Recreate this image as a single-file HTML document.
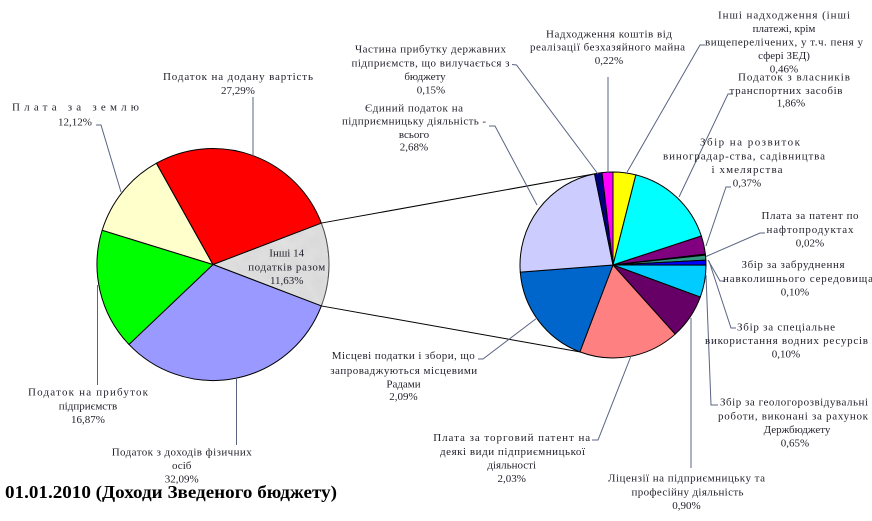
<!DOCTYPE html>
<html><head><meta charset="utf-8"><style>
html,body{margin:0;padding:0;background:#fff;}
svg{display:block;}
text{font-family:"Liberation Serif","DejaVu Serif",serif;font-size:11px;fill:#1f1f2a;}
.t{font-size:18px;font-weight:bold;fill:#000;}
</style></head><body>
<svg width="872" height="521" viewBox="0 0 872 521" xmlns="http://www.w3.org/2000/svg">
<defs>
<filter id="marble" x="0" y="0" width="100%" height="100%">
<feTurbulence type="fractalNoise" baseFrequency="0.08" numOctaves="3" seed="3" result="n"/>
<feColorMatrix in="n" type="matrix" values="0 0 0 0 0.5  0 0 0 0 0.5  0 0 0 0 0.5  0 0 0 0.35 0" result="c"/>
<feComposite in="c" in2="SourceGraphic" operator="in" result="m"/>
<feMerge><feMergeNode in="SourceGraphic"/><feMergeNode in="m"/></feMerge>
</filter>
</defs>
<rect width="872" height="521" fill="#fff"/>

<!-- connectors -->
<g stroke="#000" stroke-width="1" fill="none">
<line x1="321.35" y1="223.06" x2="594.53" y2="173.85"/>
<line x1="321.35" y1="305.94" x2="579.84" y2="351.89"/>
</g>

<!-- left pie -->
<g stroke="#000" stroke-width="1" stroke-linejoin="round">
<path d="M213,264.5 L321.35,223.06 A116,116 0 0 1 321.35,305.94 Z" fill="#e3e3e3" filter="url(#marble)"/>
<path d="M213,264.5 L321.35,305.94 A116,116 0 0 1 128.95,344.44 Z" fill="#9999ff"/>
<path d="M213,264.5 L128.95,344.44 A116,116 0 0 1 102.17,230.24 Z" fill="#00ff00"/>
<path d="M213,264.5 L102.17,230.24 A116,116 0 0 1 156.42,163.23 Z" fill="#ffffcc"/>
<path d="M213,264.5 L156.42,163.23 A116,116 0 0 1 321.35,223.06 Z" fill="#ff0000"/>
</g>

<!-- right pie -->
<g stroke="#000" stroke-width="1" stroke-linejoin="round">
<path d="M613,265 L613,172 A93,93 0 0 1 635.87,174.86 Z" fill="#ffff00"/>
<path d="M613,265 L635.87,174.86 A93,93 0 0 1 701.35,235.97 Z" fill="#00ffff"/>
<path d="M613,265 L701.35,235.97 A93,93 0 0 1 705.36,254.10 Z" fill="#800080"/>
<path d="M613,265 L705.36,254.10 A93,93 0 0 1 705.47,255.09 Z" fill="#000080"/>
<path d="M613,265 L705.47,255.09 A93,93 0 0 1 705.87,260.10 Z" fill="#339980"/>
<path d="M613,265 L705.87,260.10 A93,93 0 0 1 706.00,265.12 Z" fill="#0000ff"/>
<path d="M613,265 L706.00,265.12 A93,93 0 0 1 700.28,297.11 Z" fill="#00ccff"/>
<path d="M613,265 L700.28,297.11 A93,93 0 0 1 675.14,334.19 Z" fill="#660066"/>
<path d="M613,265 L675.14,334.19 A93,93 0 0 1 579.84,351.89 Z" fill="#ff8080"/>
<path d="M613,265 L579.84,351.89 A93,93 0 0 1 520.28,272.16 Z" fill="#0066cc"/>
<path d="M613,265 L520.28,272.16 A93,93 0 0 1 594.53,173.85 Z" fill="#ccccff"/>
<path d="M613,265 L594.53,173.85 A93,93 0 0 1 601.97,172.66 Z" fill="#000080"/>
<path d="M613,265 L601.97,172.66 A93,93 0 0 1 613,172 Z" fill="#ff00ff"/>
</g>

<!-- leader lines -->
<g stroke="#5a6482" stroke-width="1" fill="none">
<polyline points="253,97 253,156"/>
<polyline points="96,125 101,125 121,192"/>
<polyline points="97.5,285 97.5,385"/>
<polyline points="236.5,378 236.5,445"/>
<polyline points="512,64.5 516.5,65 598,174"/>
<polyline points="489,126 495,126 537,205"/>
<polyline points="608,77 608,173"/>
<polyline points="705,45 700,45 626,174"/>
<polyline points="733,94 728,94 679,197"/>
<polyline points="731,187 726,187 706,246"/>
<polyline points="765,233 760,233 706,256.5"/>
<polyline points="708,260 720,281 725,281"/>
<polyline points="709,261 731,328 736,328"/>
<polyline points="706,275 711,405 718,405"/>
<polyline points="691,318 691,468"/>
<polyline points="592,440 598,440 631,356"/>
<polyline points="478,359 483,359 537,318"/>
</g>

<!-- left labels -->
<text x="238" y="80" text-anchor="middle" textLength="150" lengthAdjust="spacing">Податок на додану вартість</text>
<text x="238" y="94" text-anchor="middle">27,29%</text>

<text x="75.5" y="110.5" text-anchor="middle" textLength="127" lengthAdjust="spacing">Плата за землю</text>
<text x="75" y="125.5" text-anchor="middle">12,12%</text>

<text x="88" y="395.5" text-anchor="middle" textLength="120" lengthAdjust="spacing">Податок на прибуток</text>
<text x="88" y="409.5" text-anchor="middle">підприємств</text>
<text x="88" y="423" text-anchor="middle">16,87%</text>

<text x="181.7" y="455.7" text-anchor="middle" textLength="140" lengthAdjust="spacing">Податок з доходів фізичних</text>
<text x="181.7" y="469" text-anchor="middle">осіб</text>
<text x="181.7" y="482.3" text-anchor="middle">32,09%</text>

<text x="286.7" y="256.5" text-anchor="middle">Інші 14</text>
<text x="286.7" y="270.5" text-anchor="middle" textLength="77" lengthAdjust="spacing">податків разом</text>
<text x="286.7" y="284" text-anchor="middle">11,63%</text>

<!-- right labels -->
<text x="430.5" y="52.3" text-anchor="middle" textLength="151" lengthAdjust="spacing">Частина прибутку державних</text>
<text x="430.5" y="66.7" text-anchor="middle" textLength="158" lengthAdjust="spacing">підприємств, що вилучається з</text>
<text x="425" y="80" text-anchor="middle">бюджету</text>
<text x="431" y="93.3" text-anchor="middle">0,15%</text>

<text x="414" y="111.3" text-anchor="middle" textLength="98" lengthAdjust="spacing">Єдиний податок на</text>
<text x="414" y="124.7" text-anchor="middle" textLength="144" lengthAdjust="spacing">підприємницьку діяльність -</text>
<text x="414" y="138" text-anchor="middle">всього</text>
<text x="414" y="150.7" text-anchor="middle">2,68%</text>

<text x="609" y="37.3" text-anchor="middle" textLength="126" lengthAdjust="spacing">Надходження коштів від</text>
<text x="607.5" y="50.7" text-anchor="middle" textLength="155" lengthAdjust="spacing">реалізації безхазяйного майна</text>
<text x="609" y="64" text-anchor="middle">0,22%</text>

<text x="784" y="18.5" text-anchor="middle" textLength="132" lengthAdjust="spacing">Інші надходження    (інші</text>
<text x="784" y="32" text-anchor="middle">платежі, крім</text>
<text x="784" y="45.5" text-anchor="middle" textLength="158" lengthAdjust="spacing">вищеперелічених, у т.ч. пеня у</text>
<text x="784" y="59" text-anchor="middle">сфері ЗЕД)</text>
<text x="784" y="72.5" text-anchor="middle">0,46%</text>

<text x="794" y="80.5" text-anchor="middle" textLength="112" lengthAdjust="spacing">Податок з власників</text>
<text x="786" y="94" text-anchor="middle" textLength="113" lengthAdjust="spacing">транспортних засобів</text>
<text x="791" y="106.7" text-anchor="middle">1,86%</text>

<text x="750" y="145.5" text-anchor="middle" textLength="100" lengthAdjust="spacing">Збір на розвиток</text>
<text x="744" y="159.5" text-anchor="middle" textLength="162" lengthAdjust="spacing">виноградар-ства, садівництва</text>
<text x="747" y="173" text-anchor="middle" textLength="71" lengthAdjust="spacing">і хмелярства</text>
<text x="747" y="186.5" text-anchor="middle">0,37%</text>

<text x="810" y="219" text-anchor="middle" textLength="97" lengthAdjust="spacing">Плата за патент по</text>
<text x="810" y="233" text-anchor="middle" textLength="87" lengthAdjust="spacing">нафтопродуктах</text>
<text x="810" y="246.5" text-anchor="middle">0,02%</text>

<text x="793" y="268" text-anchor="middle" textLength="103" lengthAdjust="spacing">Збір за забруднення</text>
<text x="798" y="282" text-anchor="middle" textLength="150" lengthAdjust="spacing">навколишнього середовища</text>
<text x="795" y="295.5" text-anchor="middle">0,10%</text>

<text x="786" y="330.7" text-anchor="middle" textLength="98" lengthAdjust="spacing">Збір за спеціальне</text>
<text x="786.5" y="344" text-anchor="middle" textLength="163" lengthAdjust="spacing">використання водних ресурсів</text>
<text x="786" y="357.3" text-anchor="middle">0,10%</text>

<text x="794" y="405.5" text-anchor="middle" textLength="148" lengthAdjust="spacing">Збір за геологорозвідувальні</text>
<text x="793" y="419.5" text-anchor="middle" textLength="150" lengthAdjust="spacing">роботи, виконані за рахунок</text>
<text x="797" y="433" text-anchor="middle">Держбюджету</text>
<text x="795" y="446.5" text-anchor="middle">0,65%</text>

<text x="686.5" y="481.3" text-anchor="middle" textLength="157" lengthAdjust="spacing">Ліцензії на підприємницьку та</text>
<text x="687.5" y="495.7" text-anchor="middle" textLength="112" lengthAdjust="spacing">професійну діяльність</text>
<text x="686.5" y="509" text-anchor="middle">0,90%</text>

<text x="511.7" y="441" text-anchor="middle" textLength="157" lengthAdjust="spacing">Плата за торговий патент на</text>
<text x="512.5" y="455" text-anchor="middle" textLength="145" lengthAdjust="spacing">деякі види підприємницької</text>
<text x="511.7" y="468.5" text-anchor="middle">діяльності</text>
<text x="511.7" y="482" text-anchor="middle">2,03%</text>

<text x="403.3" y="359" text-anchor="middle" textLength="143" lengthAdjust="spacing">Місцеві податки і збори, що</text>
<text x="403.7" y="374" text-anchor="middle" textLength="147" lengthAdjust="spacing">запроваджуються місцевими</text>
<text x="403.5" y="387.3" text-anchor="middle">Радами</text>
<text x="403.5" y="400" text-anchor="middle">2,09%</text>

<!-- title -->
<text class="t" x="5" y="498" textLength="332" lengthAdjust="spacingAndGlyphs">01.01.2010 (Доходи Зведеного бюджету)</text>
</svg>
</body></html>
